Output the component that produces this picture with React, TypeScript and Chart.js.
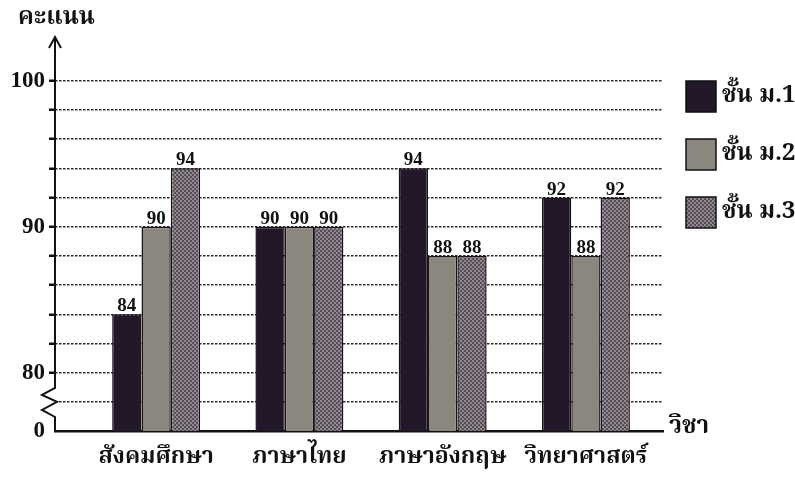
import { useEffect, useRef } from 'react';
import { Chart, registerables } from 'chart.js';
Chart.register(...registerables);

const subjects = ['สังคมศึกษา', 'ภาษาไทย', 'ภาษาอังกฤษ', 'วิทยาศาสตร์'];
const seriesNames = ['ชั้น ม.1', 'ชั้น ม.2', 'ชั้น ม.3'];
const grade1 = [84, 90, 94, 92];
const grade2 = [90, 90, 88, 88];
const grade3 = [94, 90, 88, 92];
const yTickValues = [76, 80, 90, 100];
const yTickLabels = ['0', '80', '90', '100'];
const yAxisTitle = 'คะแนน';
const xAxisTitle = 'วิชา';

const THAI = '"Noto Serif Thai", "Noto Sans Thai", Loma, Garuda, "Noto Sans", "DejaVu Sans", sans-serif';
const SERIF = '"Liberation Serif", "DejaVu Serif", serif';

function makePattern(): CanvasPattern {
  const c = document.createElement('canvas');
  const ctx = c.getContext('2d')!;
  c.width = 4; c.height = 4;
  ctx.fillStyle = '#564d57';
  ctx.fillRect(0, 0, 4, 4);
  ctx.fillStyle = '#8f8891';
  ctx.fillRect(0, 0, 2, 2);
  ctx.fillRect(2, 2, 2, 2);
  return ctx.createPattern(c, 'repeat')!;
}

export default function App() {
  const ref = useRef<HTMLCanvasElement>(null);
  useEffect(() => {
    const canvas = ref.current!;
    const fills = ['#22182a', '#8b877e', makePattern()];
    const series = [grade1, grade2, grade3];

    const overlay = {
      id: 'overlay',
      afterDatasetsDraw(chart: any) {
        const ctx = chart.ctx as CanvasRenderingContext2D;
        const y = chart.scales.y;
        const area = chart.chartArea;
        ctx.save();
        // data labels
        ctx.fillStyle = '#111';
        ctx.font = `bold 19px ${SERIF}`;
        ctx.textAlign = 'center';
        ctx.textBaseline = 'alphabetic';
        chart.data.datasets.forEach((ds: any, i: number) => {
          const meta = chart.getDatasetMeta(i);
          meta.data.forEach((el: any, j: number) => {
            ctx.fillText(String(ds.data[j].y), el.x, el.y - 3);
          });
        });
        // y axis with arrow and break
        const ax = area.left;
        ctx.strokeStyle = '#111';
        ctx.lineWidth = 2;
        ctx.beginPath();
        ctx.moveTo(ax, area.top);
        ctx.lineTo(ax, y.getPixelForValue(78.95));
        ctx.lineTo(ax - 13, y.getPixelForValue(78.47));
        ctx.lineTo(ax + 2, y.getPixelForValue(78.0));
        ctx.lineTo(ax - 13, y.getPixelForValue(77.44));
        ctx.lineTo(ax, y.getPixelForValue(76.96));
        ctx.lineTo(ax, area.bottom);
        ctx.stroke();
        ctx.beginPath();
        ctx.moveTo(ax - 6, area.top + 11);
        ctx.lineTo(ax, area.top);
        ctx.lineTo(ax + 6, area.top + 11);
        ctx.stroke();
        // axis titles
        ctx.font = `bold 24px ${THAI}`;
        ctx.textAlign = 'left';
        ctx.textBaseline = 'middle';
        ctx.fillText(yAxisTitle, 18, 20);
        ctx.fillText(xAxisTitle, area.right + 6, area.bottom - 2);
        // legend
        chart.data.datasets.forEach((ds: any, i: number) => {
          const top = 81 + i * 58;
          ctx.fillStyle = ds.backgroundColor;
          ctx.fillRect(686, top, 30, 31);
          ctx.strokeStyle = '#111';
          ctx.lineWidth = 1.5;
          ctx.strokeRect(686, top, 30, 31);
          ctx.fillStyle = '#111';
          ctx.font = `bold 24px ${THAI}`;
          ctx.fillText(ds.label, 722, top + 17);
        });
        ctx.restore();
      },
    };

    const chart = new Chart(canvas, {
      type: 'bar',
      data: {
        datasets: series.map((vals, i) => ({
          label: seriesNames[i],
          data: vals.map((v, j) => ({ x: j, y: v })),
          backgroundColor: fills[i] as any,
          borderColor: '#1a1418',
          borderWidth: 1.5,
          categoryPercentage: 0.614,
          barPercentage: 1,
        })),
      },
      options: {
        responsive: false,
        animation: false,
        layout: { padding: { top: 37, right: 132, left: 0, bottom: 0 } },
        plugins: { legend: { display: false }, tooltip: { enabled: false } },
        scales: {
          x: {
            type: 'linear',
            offset: false,
            min: -0.706,
            max: 3.538,
            grid: { display: false, drawTicks: false, offset: false },
            border: { display: true, color: '#111', width: 2.5 },
            afterBuildTicks: (s: any) => { s.ticks = subjects.map((_, i) => ({ value: i })); },
            afterFit: (s: any) => { s.height = 49; },
            ticks: {
              padding: 14,
              autoSkip: false,
              maxRotation: 0,
              color: '#111',
              font: { family: THAI, size: 23, weight: 'bold' },
              callback: (v: any) => subjects[v] ?? '',
            },
          },
          y: {
            type: 'linear',
            min: 76,
            max: 103,
            afterBuildTicks: (s: any) => {
              const t = [];
              for (let v = 76; v <= 100; v += 2) t.push({ value: v });
              s.ticks = t;
            },
            afterFit: (s: any) => { s.width = 55; },
            grid: {
              color: (c: any) => (c.tick && c.tick.value === 76 ? 'rgba(0,0,0,0)' : '#262626'),
              lineWidth: 1.5,
              tickLength: 6,
              tickColor: (c: any) => (c.tick && c.tick.value <= 78 ? 'rgba(0,0,0,0)' : '#111'),
              tickWidth: 2.5,
              tickBorderDash: [],
            } as any,
            border: { display: false, dash: [2.5, 1.5] } as any,
            ticks: {
              padding: 4,
              autoSkip: false,
              color: '#111',
              font: { family: SERIF, size: 23, weight: 'bold' },
              callback: (v: any) => {
                const k = yTickValues.indexOf(v);
                return k >= 0 ? yTickLabels[k] : '';
              },
            },
          },
        },
      },
      plugins: [overlay],
    } as any);
    return () => chart.destroy();
  }, []);
  return (
    <div style={{ position: 'fixed', left: 0, top: 0, width: 795, height: 480, background: '#fff' }}>
      <canvas ref={ref} width={795} height={480} style={{ display: 'block' }} />
    </div>
  );
}
